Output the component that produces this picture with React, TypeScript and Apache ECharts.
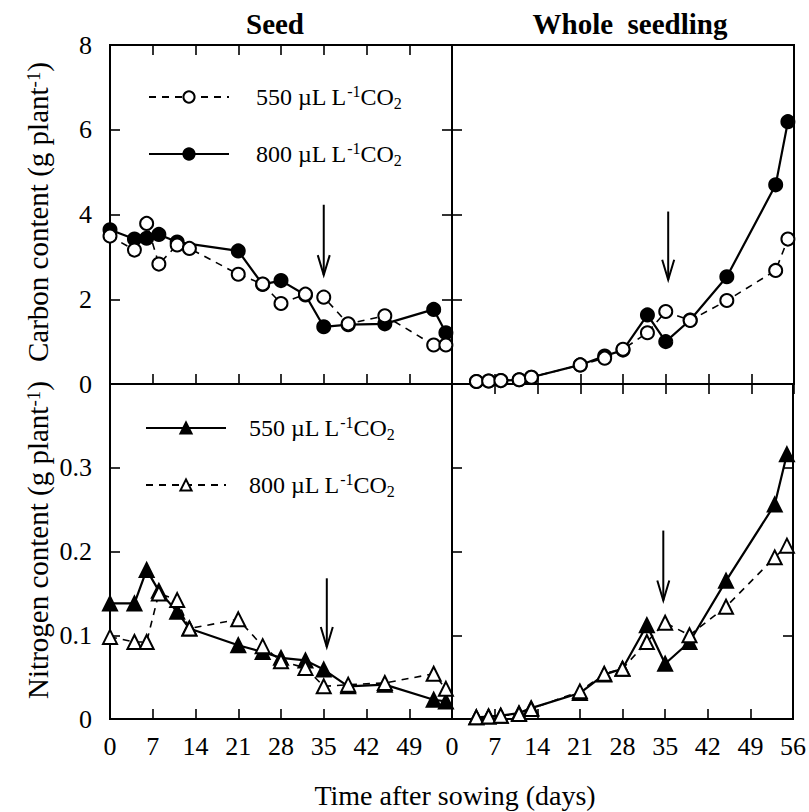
import React, { useEffect, useRef } from "react";
import * as echarts from "echarts";

const FONT = "Liberation Serif";

// ---- Data (days after sowing, g per plant) ----
// Seed carbon
const seedCDays550 = [0, 4, 6, 8, 11, 13, 21, 25, 28, 32, 35, 39, 45, 53, 55];
const seedC550 = [3.49, 3.16, 3.79, 2.83, 3.28, 3.2, 2.59, 2.36, 1.9, 2.12, 2.05, 1.42, 1.61, 0.92, 0.92];
const seedCDays800 = [0, 4, 6, 8, 11, 21, 25, 28, 32, 35, 39, 45, 53, 55];
const seedC800 = [3.64, 3.42, 3.44, 3.53, 3.35, 3.14, 2.35, 2.44, 2.1, 1.35, 1.4, 1.42, 1.76, 1.21];

// Whole seedling carbon
const wholeDays = [4, 6, 8, 11, 13, 21, 25, 28, 32, 35, 39, 45, 53, 55];
const wholeC550 = [0.06, 0.07, 0.08, 0.1, 0.16, 0.45, 0.61, 0.82, 1.21, 1.71, 1.5, 1.97, 2.68, 3.42];
const wholeC800 = [0.06, 0.07, 0.08, 0.1, 0.16, 0.45, 0.66, 0.8, 1.63, 1.0, 1.51, 2.53, 4.7, 6.19];

// Seed nitrogen
const seedNDays550 = [0, 4, 6, 8, 11, 13, 21, 25, 28, 32, 35, 39, 45, 53, 55];
const seedN550 = [0.138, 0.138, 0.178, 0.153, 0.128, 0.108, 0.088, 0.08, 0.073, 0.07, 0.059, 0.039, 0.041, 0.023, 0.021];
const seedNDays800 = [0, 4, 6, 8, 11, 13, 21, 25, 28, 32, 35, 39, 45, 53, 55];
const seedN800 = [0.098, 0.092, 0.092, 0.15, 0.142, 0.108, 0.119, 0.087, 0.069, 0.061, 0.039, 0.041, 0.043, 0.054, 0.036];

// Whole seedling nitrogen
const wholeN550 = [0.002, 0.003, 0.004, 0.007, 0.013, 0.031, 0.053, 0.06, 0.112, 0.066, 0.092, 0.165, 0.256, 0.316];
const wholeN800 = [0.002, 0.003, 0.004, 0.006, 0.012, 0.033, 0.054, 0.06, 0.092, 0.115, 0.1, 0.134, 0.193, 0.207];

// Arrows (panel order: seed C, whole C, seed N, whole N)
const arrowDay = [35, 35.4, 35.5, 34.7];
const arrowTop = [4.23, 4.07, 0.168, 0.225];
const arrowTip = [2.57, 2.46, 0.086, 0.1415];

const legendLabels: Record<string, string> = {
  c550: "550 µL L{sup|-1}CO{sub|2}",
  c800: "800 µL L{sup|-1}CO{sub|2}",
  n550: "550 µL L{sup|-1}CO{sub|2}",
  n800: "800 µL L{sup|-1}CO{sub|2}",
};

const grids = [
  { left: 110, top: 45, width: 342, height: 339 },
  { left: 452, top: 45, width: 342, height: 339 },
  { left: 110, top: 384, width: 342, height: 335 },
  { left: 452, top: 384, width: 342, height: 335 },
];

function pairs(days: number[], vals: number[]) {
  return days.map((d, i) => [d, vals[i]]);
}

const tickStyle = { show: true, inside: true, length: 10, lineStyle: { color: "#000", width: 1.6 } };
const labelStyle = { fontSize: 26, fontFamily: FONT, color: "#000" };

function xAxis(gridIndex: number, position: string, showLabel: boolean, showMax: boolean) {
  return {
    type: "value",
    gridIndex,
    position,
    min: 0,
    max: 56,
    interval: 7,
    axisLine: { show: false },
    axisTick: tickStyle,
    splitLine: { show: false },
    axisLabel: { show: showLabel, showMaxLabel: showMax, margin: 14, ...labelStyle },
  };
}

function yAxis(gridIndex: number, position: string, max: number, interval: number, showLabel: boolean, showMax: boolean) {
  return {
    type: "value",
    gridIndex,
    position,
    min: 0,
    max,
    interval,
    axisLine: { show: false },
    axisTick: tickStyle,
    splitLine: { show: false },
    axisLabel: { show: showLabel, showMaxLabel: showMax, margin: 18, ...labelStyle },
  };
}

function lineSeries(name: string, idx: number, data: number[][], symbol: string, filled: boolean, dashed: boolean, size: number) {
  return {
    type: "line",
    name,
    xAxisIndex: idx,
    yAxisIndex: idx,
    data,
    symbol,
    symbolSize: size,
    showAllSymbol: true,
    clip: false,
    silent: true,
    z: filled ? 2 : 3,
    lineStyle: { color: "#000", width: dashed ? 1.6 : 2.2, type: dashed ? [7, 6] : "solid" },
    itemStyle: { color: filled ? "#000" : "#fff", borderColor: "#000", borderWidth: 2 },
    emphasis: { disabled: true },
  };
}

function arrowSeries(idx: number) {
  return {
    type: "custom",
    xAxisIndex: idx,
    yAxisIndex: idx,
    silent: true,
    clip: false,
    data: [[arrowDay[idx], arrowTop[idx], arrowTip[idx]]],
    encode: { x: 0, y: [1, 2] },
    renderItem: (_params: any, api: any) => {
      const a = api.coord([api.value(0), api.value(1)]);
      const b = api.coord([api.value(0), api.value(2)]);
      return {
        type: "group",
        children: [
          { type: "line", shape: { x1: a[0], y1: a[1], x2: b[0], y2: b[1] }, style: { stroke: "#000", lineWidth: 2 } },
          {
            type: "polyline",
            shape: { points: [[b[0] - 6, b[1] - 20], [b[0], b[1]], [b[0] + 6, b[1] - 20]] },
            style: { stroke: "#000", lineWidth: 2, fill: "none" },
          },
        ],
      };
    },
  };
}

const richSmall = {
  sup: { fontSize: 16, lineHeight: 16, verticalAlign: "top", fontFamily: FONT, color: "#000" },
  sub: { fontSize: 16, lineHeight: 16, verticalAlign: "bottom", fontFamily: FONT, color: "#000" },
};

function legend(names: string[], top: number, padLeft: number, left: number) {
  return {
    data: names,
    orient: "vertical",
    left,
    top,
    itemWidth: 80,
    itemHeight: 14,
    itemGap: 29,
    selectedMode: false,
    formatter: (n: string) => legendLabels[n],
    textStyle: {
      fontSize: 24,
      fontFamily: FONT,
      color: "#000",
      lineHeight: 28,
      padding: [0, 0, 0, padLeft],
      rich: richSmall,
    },
  };
}

const richTitle = {
  sup: { fontSize: 19, lineHeight: 19, verticalAlign: "top", fontFamily: FONT, fill: "#000", color: "#000" },
};

const option: any = {
  animation: false,
  backgroundColor: "#fff",
  grid: grids.map((g) => ({ ...g, show: true, borderColor: "#000", borderWidth: 2, backgroundColor: "transparent", containLabel: false })),
  xAxis: [
    xAxis(0, "bottom", false, false),
    xAxis(1, "bottom", false, false),
    xAxis(2, "bottom", true, false),
    xAxis(3, "bottom", true, true),
    xAxis(0, "top", false, false),
    xAxis(1, "top", false, false),
  ],
  yAxis: [
    yAxis(0, "left", 8, 2, true, true),
    yAxis(1, "left", 8, 2, false, false),
    yAxis(2, "left", 0.4, 0.1, true, false),
    yAxis(3, "left", 0.4, 0.1, false, false),
    yAxis(1, "right", 8, 2, false, false),
    yAxis(3, "right", 0.4, 0.1, false, false),
  ],
  legend: [legend(["c550", "c800"], 78, 22, 143), legend(["n550", "n800"], 409, 18, 140)],
  series: [
    lineSeries("c800", 0, pairs(seedCDays800, seedC800), "circle", true, false, 13),
    lineSeries("c550", 0, pairs(seedCDays550, seedC550), "circle", false, true, 13),
    lineSeries("c800", 1, pairs(wholeDays, wholeC800), "circle", true, false, 13),
    lineSeries("c550", 1, pairs(wholeDays, wholeC550), "circle", false, true, 13),
    lineSeries("n550", 2, pairs(seedNDays550, seedN550), "triangle", true, false, 14),
    lineSeries("n800", 2, pairs(seedNDays800, seedN800), "triangle", false, true, 14),
    lineSeries("n550", 3, pairs(wholeDays, wholeN550), "triangle", true, false, 14),
    lineSeries("n800", 3, pairs(wholeDays, wholeN800), "triangle", false, true, 14),
    arrowSeries(0),
    arrowSeries(1),
    arrowSeries(2),
    arrowSeries(3),
  ],
  graphic: [
    {
      type: "text",
      x: 275,
      y: 24,
      style: { text: "Seed", fontSize: 29, fontWeight: "bold", fontFamily: FONT, fill: "#000", align: "center", verticalAlign: "middle" },
    },
    {
      type: "text",
      x: 630,
      y: 24,
      style: { text: "Whole  seedling", fontSize: 29, fontWeight: "bold", fontFamily: FONT, fill: "#000", align: "center", verticalAlign: "middle" },
    },
    {
      type: "text",
      x: 455,
      y: 795,
      style: { text: "Time after sowing (days)", fontSize: 28, fontFamily: FONT, fill: "#000", align: "center", verticalAlign: "middle" },
    },
    {
      type: "text",
      x: 38,
      y: 212,
      rotation: Math.PI / 2,
      style: {
        text: "Carbon content (g plant{sup|-1})",
        fontSize: 29,
        fontFamily: FONT,
        fill: "#000",
        align: "center",
        verticalAlign: "middle",
        rich: richTitle,
      },
    },
    {
      type: "text",
      x: 38,
      y: 540,
      rotation: Math.PI / 2,
      style: {
        text: "Nitrogen content (g plant{sup|-1})",
        fontSize: 29,
        fontFamily: FONT,
        fill: "#000",
        align: "center",
        verticalAlign: "middle",
        rich: richTitle,
      },
    },
  ],
};

export default function App() {
  const ref = useRef<HTMLDivElement>(null);
  useEffect(() => {
    if (!ref.current) return;
    const chart = echarts.init(ref.current, null, { renderer: "svg" });
    chart.setOption(option);
    return () => chart.dispose();
  }, []);
  return <div ref={ref} style={{ position: "absolute", left: 0, top: 0, width: 809, height: 812, background: "#fff" }} />;
}
